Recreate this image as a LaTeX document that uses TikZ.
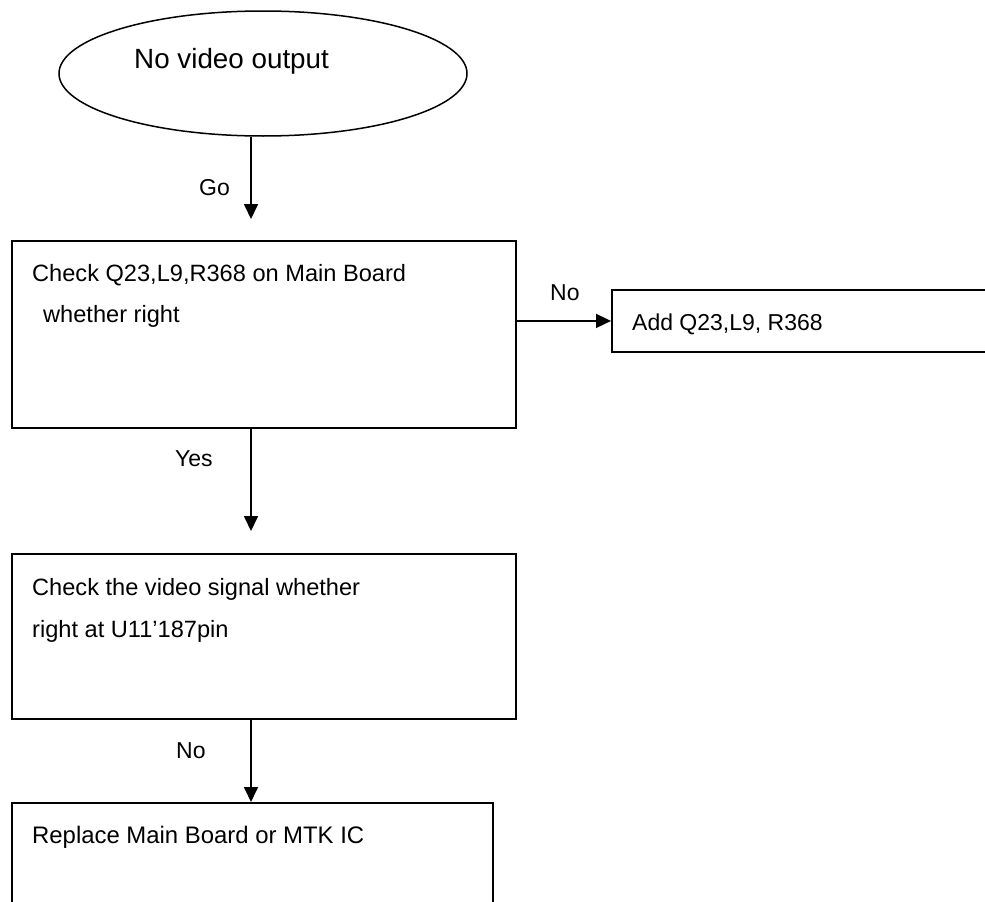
\documentclass[tikz,border=0pt]{standalone}
\usepackage{fontspec}
\setmainfont{Liberation Sans}
\usetikzlibrary{arrows.meta,shapes.geometric}
\begin{document}
\begin{tikzpicture}[x=1pt,y=-1pt,
  box/.style={draw,line width=1.9pt,rectangle,inner sep=0pt,anchor=north west},
  txt/.style={anchor=base west,inner sep=0pt,font=\fontsize{23.6}{27}\selectfont},
  arr/.style={line width=1.7pt,-{Triangle[width=14pt,length=15pt]}}]
\useasboundingbox (0,0) rectangle (985,902);
\clip (0,0) rectangle (985,902);
% shapes
\node[draw,ellipse,line width=1.5pt,minimum width=408pt,minimum height=125pt,inner sep=0pt] (start) at (263,73.5) {};
\node[box,minimum width=504pt,minimum height=187pt] (b1) at (11,240) {};
\node[box,minimum width=400pt,minimum height=62pt] (add) at (611,289) {};
\node[box,minimum width=504pt,minimum height=165pt] (b2) at (11,553) {};
\node[box,minimum width=481pt,minimum height=130pt] (b3) at (11,802) {};
% texts
\node[anchor=base west,inner sep=0pt,font=\fontsize{27.8}{32}\selectfont] (t0) at (134,68) {No video output};
\node[txt] (t1a) at (32,281) {Check Q23,L9,R368 on Main Board};
\node[txt] (t1b) at (43,322) {whether right};
\node[txt,font=\fontsize{23}{27}\selectfont] (tadd) at (632,330) {Add Q23,L9, R368};
\node[txt] (t2a) at (32,595) {Check the video signal whether};
\node[txt] (t2b) at (32,637) {right at U11’187pin};
\node[txt,font=\fontsize{23.9}{27}\selectfont] (t3) at (32,843) {Replace Main Board or MTK IC};
% connectors
\coordinate (g1) at (251,219);
\coordinate (y1) at (251,531);
\coordinate (n2) at (251,0);
\draw[arr] (start.south -| g1) -- (g1);
\draw[arr] (b1.south -| y1) -- (y1);
\draw[arr] (b2.south -| n2) -- (b3.north -| n2);
\draw[arr] (b1.east |- add.west) -- (add.west);
% labels
\node[txt,font=\fontsize{23}{27}\selectfont] (lgo) at (199,195) {Go};
\node[txt,font=\fontsize{23}{27}\selectfont] (lno1) at (550,300) {No};
\node[txt,font=\fontsize{23}{27}\selectfont] (lyes) at (175,466) {Yes};
\node[txt,font=\fontsize{23}{27}\selectfont] (lno2) at (176,758) {No};
\end{tikzpicture}
\end{document}
